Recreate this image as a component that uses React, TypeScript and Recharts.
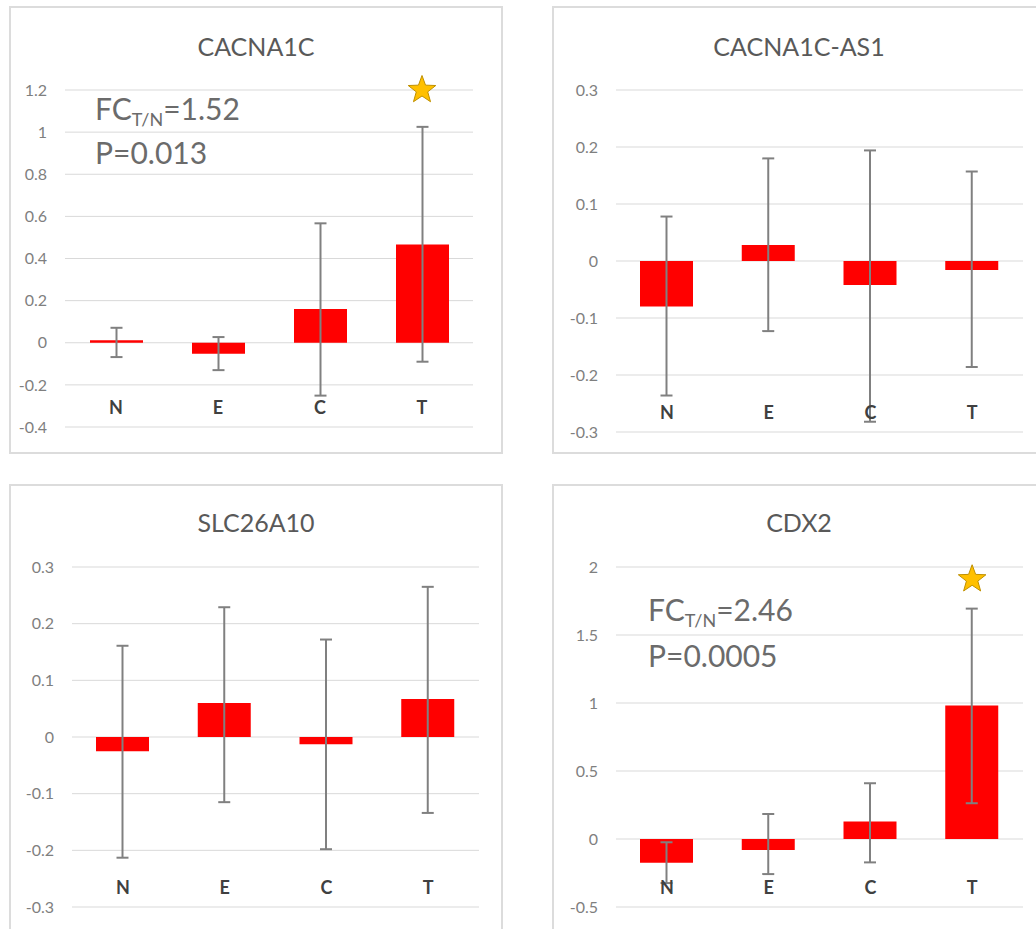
import { BarChart, Bar, XAxis, YAxis, CartesianGrid, ErrorBar, ReferenceDot } from 'recharts';

const categories = ['N', 'E', 'C', 'T'];

// CACNA1C
const cacna1cMean = [0.012, -0.052, 0.16, 0.467];
const cacna1cErrLow = [0.08, 0.078, 0.411, 0.557];
const cacna1cErrHigh = [0.059, 0.079, 0.407, 0.558];
const cacna1cTicks = [-0.4, -0.2, 0, 0.2, 0.4, 0.6, 0.8, 1, 1.2];

// CACNA1C-AS1
const as1Mean = [-0.08, 0.028, -0.042, -0.016];
const as1ErrLow = [0.156, 0.151, 0.24, 0.17];
const as1ErrHigh = [0.158, 0.152, 0.236, 0.173];
const as1Ticks = [-0.3, -0.2, -0.1, 0, 0.1, 0.2, 0.3];

// SLC26A10
const slcMean = [-0.025, 0.06, -0.013, 0.067];
const slcErrLow = [0.188, 0.175, 0.185, 0.201];
const slcErrHigh = [0.186, 0.169, 0.185, 0.198];
const slcTicks = [-0.3, -0.2, -0.1, 0, 0.1, 0.2, 0.3];

// CDX2
const cdx2Mean = [-0.174, -0.081, 0.128, 0.982];
const cdx2ErrLow = [0.15, 0.177, 0.3, 0.719];
const cdx2ErrHigh = [0.15, 0.265, 0.282, 0.712];
const cdx2Ticks = [-0.5, 0, 0.5, 1, 1.5, 2];

const makeData = (mean: number[], lo: number[], hi: number[]) =>
  categories.map((name, i) => ({ name, mean: mean[i], err: [lo[i], hi[i]] }));

const W = 494;
const H = 448;
const FONT = 'Lato, "Open Sans", sans-serif';

const Star = (props: any) => {
  const { cx, cy } = props;
  const pts: string[] = [];
  for (let i = 0; i < 10; i++) {
    const r = i % 2 === 0 ? 14.5 : 6;
    const a = -Math.PI / 2 + (i * Math.PI) / 5;
    pts.push(`${cx + r * Math.cos(a)},${cy + r * Math.sin(a)}`);
  }
  return <polygon points={pts.join(' ')} fill="#FFC000" stroke="#BF9000" strokeWidth={1} />;
};

const CatTick = (props: any) => {
  const { x, y, payload } = props;
  return (
    <text x={x} y={y - 13} textAnchor="middle" fill="#404040" fontSize={18} fontWeight="bold" fontFamily={FONT}>
      {payload.value}
    </text>
  );
};

interface Note {
  fc: string;
  p: string;
  left: number;
  top: number;
  lineHeight: number;
}

interface PanelProps {
  left: number;
  top: number;
  title: string;
  titleTop: number;
  data: any[];
  ticks: number[];
  margin: { top: number; right: number; bottom: number; left: number };
  star?: number;
  note?: Note;
}

const Panel = ({ left, top, title, titleTop, data, ticks, margin, star, note }: PanelProps) => (
  <div style={{ position: 'absolute', left, top, width: W, height: H }}>
    <div style={{ position: 'absolute', left: 0, top: 0, width: W, height: H, border: '2px solid #dcdcdc', boxSizing: 'border-box' }} />
    <div style={{ position: 'absolute', left: 0, top: titleTop, width: W, textAlign: 'center', fontFamily: FONT, fontSize: 25, lineHeight: '30px', color: '#595959' }}>
      {title}
    </div>
    <div style={{ position: 'absolute', left: 0, top: 0 }}>
      <BarChart width={W} height={H} data={data} margin={margin}>
        <CartesianGrid vertical={false} stroke="#d9d9d9" />
        <XAxis dataKey="name" axisLine={false} tickLine={false} tickSize={0} tickMargin={0} height={20} interval={0} tick={CatTick} />
        <YAxis
          type="number"
          domain={[ticks[0], ticks[ticks.length - 1]]}
          ticks={ticks}
          interval={0}
          axisLine={false}
          tickLine={false}
          tickSize={0}
          tickMargin={18}
          width={50}
          allowDataOverflow
          tick={{ fill: '#7f7f7f', fontSize: 16, fontFamily: FONT }}
        />
        <Bar dataKey="mean" fill="#ff0000" barSize={53} isAnimationActive={false}>
          <ErrorBar dataKey="err" width={6} stroke="#808080" strokeWidth={2} isAnimationActive={false} />
        </Bar>
        {star !== undefined && <ReferenceDot x="T" y={star} r={14} shape={Star} ifOverflow="visible" />}
      </BarChart>
    </div>
    {note && (
      <div style={{ position: 'absolute', left: note.left, top: note.top, fontFamily: FONT, fontSize: 30, lineHeight: `${note.lineHeight}px`, color: '#6b6b6b', whiteSpace: 'nowrap' }}>
        <div>
          FC<span style={{ fontSize: 18, position: 'relative', top: 6 }}>T/N</span>={note.fc}
        </div>
        <div>P={note.p}</div>
      </div>
    )}
  </div>
);

export default function App() {
  return (
    <div style={{ position: 'absolute', left: 0, top: 0, width: 1036, height: 929, overflow: 'hidden', background: '#fff' }}>
      <Panel
        left={9}
        top={6}
        title="CACNA1C"
        titleTop={25}
        data={makeData(cacna1cMean, cacna1cErrLow, cacna1cErrHigh)}
        ticks={cacna1cTicks}
        margin={{ top: 84, right: 30, bottom: 7, left: 6 }}
        star={1.2}
        note={{ fc: '1.52', p: '0.013', left: 86, top: 83, lineHeight: 39 }}
      />
      <Panel
        left={552}
        top={6}
        title="CACNA1C-AS1"
        titleTop={25}
        data={makeData(as1Mean, as1ErrLow, as1ErrHigh)}
        ticks={as1Ticks}
        margin={{ top: 84, right: 23, bottom: 2, left: 14 }}
      />
      <Panel
        left={9}
        top={484}
        title="SLC26A10"
        titleTop={23}
        data={makeData(slcMean, slcErrLow, slcErrHigh)}
        ticks={slcTicks}
        margin={{ top: 83, right: 24, bottom: 5, left: 13 }}
      />
      <Panel
        left={552}
        top={484}
        title="CDX2"
        titleTop={23}
        data={makeData(cdx2Mean, cdx2ErrLow, cdx2ErrHigh)}
        ticks={cdx2Ticks}
        margin={{ top: 83, right: 23, bottom: 5, left: 14 }}
        star={1.91}
        note={{ fc: '2.46', p: '0.0005', left: 96, top: 105, lineHeight: 41 }}
      />
    </div>
  );
}
